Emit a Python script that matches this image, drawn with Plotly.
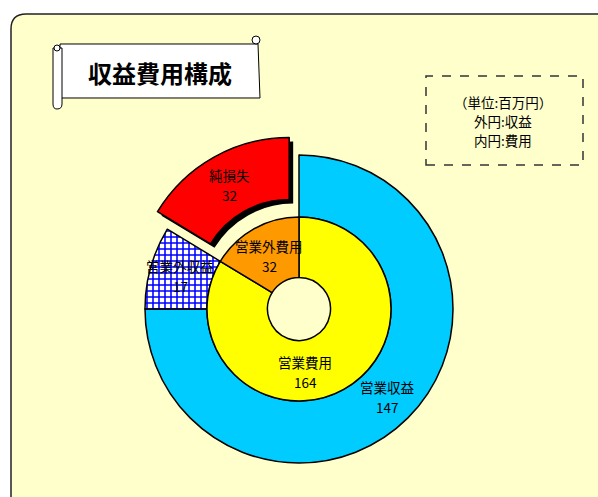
import plotly.graph_objects as go

W, H = 598, 497

# ---- data ----
outer_labels = ["営業収益", "営業外収益", "純損失"]
outer_values = [147, 17, 32]
outer_colors = ["#00CCFF", "#FFFFFF", "#FF0000"]
outer_pull = [0, 0, 0.13]

inner_labels = ["営業費用", "営業外費用"]
inner_values = [164, 32]
inner_colors = ["#FFFF00", "#FF9900"]

title_text = "収益費用構成"
note_lines = ["（単位:百万円）", "外円:収益", "内円:費用"]

FONT = "Noto Sans CJK JP"

# label anchor points in pixels (layout only)
outer_label_pos = [(387, 397), (180, 276), (229, 185)]
inner_label_pos = [(305, 372), (269, 256)]


def px(x):
    return x / W


def py(y):
    return 1 - y / H


def path(pts):
    out = []
    for cmd, *xy in pts:
        coords = []
        for i in range(0, len(xy), 2):
            coords.append(f"{px(xy[i]):.5f},{py(xy[i+1]):.5f}")
        out.append(cmd + " " + " ".join(coords))
    return " ".join(out) + " Z"


# pie geometry (pixels)
cx, cy = 299, 309
R_out, R_in, R_hole = 154, 92, 31.5
pull_max = max(outer_pull)
half_out = R_out * (1 + pull_max)
shadow = 4

fig = go.Figure()

# shadow of the exploded slice
fig.add_trace(go.Pie(
    labels=outer_labels, values=outer_values, sort=False, direction="clockwise",
    rotation=0, hole=R_in / R_out, pull=outer_pull,
    marker=dict(colors=["rgba(0,0,0,0)", "rgba(0,0,0,0)", "#000000"],
                line=dict(width=0)),
    textinfo="none", hoverinfo="skip", showlegend=False,
    domain=dict(x=[px(cx - half_out + shadow), px(cx + half_out + shadow)],
                y=[py(cy + half_out + shadow), py(cy - half_out + shadow)]),
))

# outer ring: revenue
fig.add_trace(go.Pie(
    labels=outer_labels, values=outer_values, sort=False, direction="clockwise",
    rotation=0, hole=R_in / R_out, pull=outer_pull,
    marker=dict(colors=outer_colors, line=dict(color="#000000", width=1.5),
                pattern=dict(shape=["", "+", ""], fgcolor="#0000FF",
                             bgcolor="#FFFFFF", size=6, solidity=0.45,
                             fillmode="replace")),
    textinfo="none", showlegend=False,
    domain=dict(x=[px(cx - half_out), px(cx + half_out)],
                y=[py(cy + half_out), py(cy - half_out)]),
))

# inner ring: expenses
fig.add_trace(go.Pie(
    labels=inner_labels, values=inner_values, sort=False, direction="clockwise",
    rotation=0, hole=R_hole / R_in,
    marker=dict(colors=inner_colors, line=dict(color="#000000", width=1.5)),
    textinfo="none", showlegend=False,
    domain=dict(x=[px(cx - R_in), px(cx + R_in)],
                y=[py(cy + R_in), py(cy - R_in)]),
))

shapes = []
# panel background
shapes.append(dict(type="path", xref="paper", yref="paper", layer="below",
                   path=path([("M", 11, 29), ("Q", 11, 14, 26, 14), ("L", 596, 14),
                              ("Q", 611, 14, 611, 29), ("L", 611, 496),
                              ("Q", 611, 511, 596, 511), ("L", 26, 511),
                              ("Q", 11, 511, 11, 496)]),
                   fillcolor="#FFFFCC", line=dict(color="#222222", width=1.5)))
# title scroll
shapes.append(dict(type="path", xref="paper", yref="paper", layer="above",
                   path=path([("M", 60, 44), ("L", 258, 44), ("L", 260, 98), ("L", 60, 98)]),
                   fillcolor="#FFFFFF", line=dict(color="#000000", width=1)))
shapes.append(dict(type="path", xref="paper", yref="paper", layer="above",
                   path=path([("M", 53, 48), ("L", 62, 48), ("L", 62, 104),
                              ("Q", 62, 109, 57, 109), ("Q", 53, 109, 53, 104)]),
                   fillcolor="#FFFFFF", line=dict(color="#000000", width=1)))
shapes.append(dict(type="circle", xref="paper", yref="paper", layer="above",
                   x0=px(54), x1=px(60), y0=py(51), y1=py(45),
                   fillcolor="#FFFFFF", line=dict(color="#000000", width=1)))
shapes.append(dict(type="circle", xref="paper", yref="paper", layer="above",
                   x0=px(252), x1=px(260), y0=py(44), y1=py(36),
                   fillcolor="#FFFFFF", line=dict(color="#000000", width=1)))
# note box
shapes.append(dict(type="rect", xref="paper", yref="paper", layer="above",
                   x0=px(426), x1=px(583), y0=py(165), y1=py(76),
                   fillcolor="#FFFFCC", line=dict(color="#333333", width=1.5, dash="dash")))

annotations = [dict(text=f"<b>{title_text}</b>", x=px(160), y=py(72), xref="paper", yref="paper",
                    xanchor="center", yanchor="middle", showarrow=False,
                    font=dict(family=FONT, size=24, color="#000000"))]
for i, line in enumerate(note_lines):
    annotations.append(dict(text=line, x=px(503), y=py(102 + 19 * i), xref="paper",
                            yref="paper", xanchor="center", yanchor="middle",
                            showarrow=False,
                            font=dict(family=FONT, size=13.5, color="#000000")))

# slice labels (label line + value line), built from the data arrays
for labels, values, positions in ((outer_labels, outer_values, outer_label_pos),
                                  (inner_labels, inner_values, inner_label_pos)):
    for lab, val, (lx, ly) in zip(labels, values, positions):
        for txt, dy in ((lab, -10), (str(val), 10)):
            annotations.append(dict(text=txt, x=px(lx), y=py(ly + dy),
                                    xref="paper", yref="paper", xanchor="center",
                                    yanchor="middle", showarrow=False,
                                    font=dict(family=FONT, size=13.5, color="#000000")))

fig.update_layout(
    width=W, height=H, margin=dict(l=0, r=0, t=0, b=0),
    paper_bgcolor="#FFFFFF", plot_bgcolor="#FFFFFF",
    shapes=shapes, annotations=annotations,
)

fig.write_html("out.html", config={"displayModeBar": False},
               post_script="document.body.style.margin='0';")
